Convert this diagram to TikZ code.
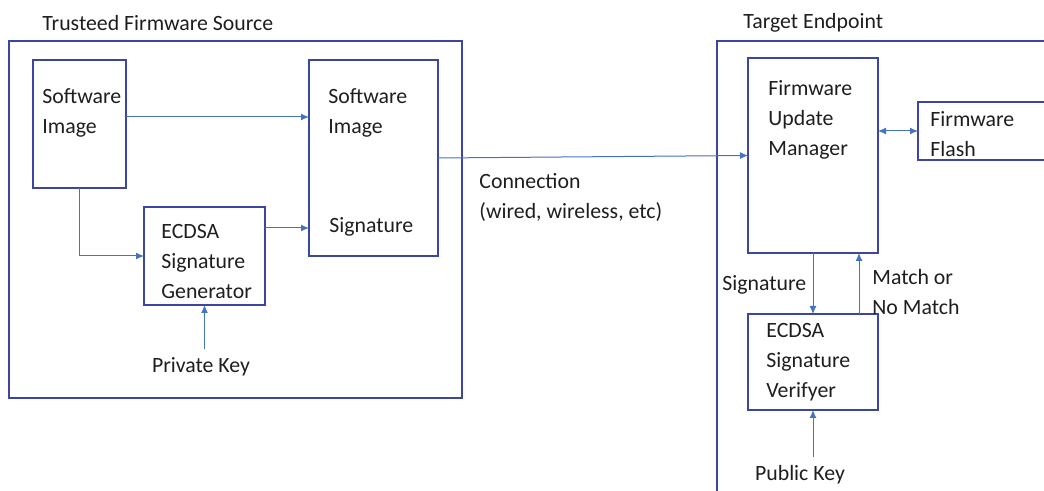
\documentclass[tikz,border=0pt]{standalone}
\usepackage{fontspec}
\setmainfont{Carlito}
\usetikzlibrary{arrows.meta, fit}
\definecolor{boxblue}{RGB}{60,70,160}
\definecolor{lineblue}{RGB}{68,114,196}
\definecolor{txtgray}{RGB}{30,30,30}

\begin{document}
\begin{tikzpicture}[x = 0.5pt, y = -0.5pt]
			    \tikzstyle{frame}=[draw=boxblue,line width = .75pt]
			    \tikzstyle{box}=[draw=boxblue,line width = .75pt,rectangle,inner sep=0,outer sep=0]
			    \tikzstyle{conn}=[draw=lineblue,line width = .5pt,-{Latex[length=4pt,width=3.5pt]}]
			    \tikzstyle{both}=[draw=lineblue,line width = .5pt,{Latex[length=4pt,width=3.5pt]}-{Latex[length=4pt,width=3.5pt]}]
			    \tikzstyle{txt}=[inner sep=0,anchor=west,align=left,text=txtgray,font=\fontsize{10.9}{15}\selectfont]
			    \tikzstyle{key}=[inner sep=4pt,text=txtgray,font=\fontsize{10.9}{15}\selectfont]
			    \useasboundingbox (0,0) rectangle (1044,491);
			    \clip (0,0) rectangle (1044,491);
			    \draw[frame] (9,41) rectangle (462,398);
			    \draw[frame] (1050,41) -- (717,41) -- (717,500);
			    \node[txt] (srctitle) at (42,23) {Trusteed Firmware Source};
			    \node[txt] (dsttitle) at (743,23) {Target Endpoint};
			    \node[box,fit={(33,60) (126,188)}] (img) {};
			    \node[box,fit={(309,60) (438,256)}] (signed) {};
			    \node[box,fit={(144,207) (265,305)}] (gen) {};
			    \node[box,fit={(748,58) (878,253)}] (fum) {};
			    \node[box,fit={(918,102) (1060,160)}] (flash) {};
			    \node[box,fit={(748,314) (878,410)}] (ver) {};
			    \node[txt] (imgtxt) at (42,113) {Software\\Image};
			    \node[txt] (signedtxt) at (328,113) {Software\\Image};
			    \node[txt] (sigtxt) at (329,227) {Signature};
			    \node[txt] (gentxt) at (161,262) {ECDSA\\Signature\\Generator};
			    \node[txt] (fumtxt) at (768,120) {Firmware\\Update\\Manager};
			    \node[txt] (flashtxt) at (930,134) {Firmware\\Flash};
			    \node[txt] (vertxt) at (766,362) {ECDSA\\Signature\\Verifyer};
			    \node[txt] (conntxt) at (479,197) {Connection\\(wired, wireless, etc)};
			    \node[txt] (siglbl) at (722,285) {Signature};
			    \node[txt] (matchlbl) at (872,292) {Match or\\No Match};
			    \node[key] (priv) at (201,367) {Private Key};
			    \node[key] (pub) at (800,475) {Public Key};
			    \draw[conn] ([yshift=3.5pt]img.east) -- ([yshift=3.5pt]img.east -| signed.west);
			    \draw[conn] (img.south) |- (gen.west);
			    \draw[conn] ([yshift=14pt]gen.east) -- ([yshift=14pt]gen.east -| signed.west);
			    \draw[conn] (priv.north -| gen.south) -- (gen.south);
			    \draw[conn] (signed.east) -- (fum.west);
			    \draw[both] (flash.west -| fum.east) -- (flash.west);
			    \draw[conn] (fum.south) -- (ver.north);
			    \draw[conn] ([xshift=23pt]ver.north) -- ([xshift=23pt]fum.south);
			    \draw[conn] (pub.north -| ver.south) -- (ver.south);
			\end{tikzpicture}
\end{document}
